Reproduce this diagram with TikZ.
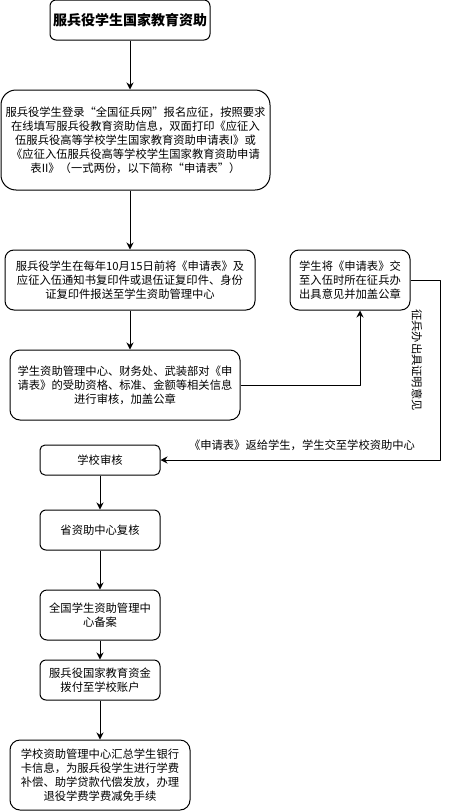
\documentclass[tikz,border=0pt]{standalone}
\usepackage{fontspec}
\setmainfont{Noto Sans CJK SC}
\usetikzlibrary{arrows.meta,calc}
\tikzset{
  flowbox/.style={draw, line width=1pt, align=center, inner sep=1pt, font=\fontsize{11.3}{14}\selectfont},
  flowline/.style={line width=1pt, -{Stealth[length=7pt,width=7pt]}}
}
\begin{document}
\begin{tikzpicture}[x=1pt, y=-1pt, line join=round]
\useasboundingbox (0,0) rectangle (449,811);
% main column
\node[flowbox, rounded corners=6pt, minimum width=160pt, minimum height=40pt, font=\fontsize{14}{16}\selectfont\bfseries] (title) at (130,20) {服兵役学生国家教育资助};
\node[flowbox, rounded corners=15pt, minimum width=269pt, minimum height=100pt] (apply) at (135.5,140) {服兵役学生登录“全国征兵网”报名应征，按照要求\\在线填写服兵役教育资助信息，双面打印《应征入\\伍服兵役高等学校学生国家教育资助申请表I》或\\《应征入伍服兵役高等学校学生国家教育资助申请\\表II》（一式两份，以下简称“申请表”）};
\node[flowbox, rounded corners=9pt, minimum width=250pt, minimum height=60pt] (submit) at (130,280) {服兵役学生在每年10月15日前将《申请表》及\\应征入伍通知书复印件或退伍证复印件、身份\\证复印件报送至学生资助管理中心};
\node[flowbox, rounded corners=10pt, minimum width=230pt, minimum height=70pt] (review) at (125,385) {学生资助管理中心、财务处、武装部对《申\\请表》的受助资格、标准、金额等相关信息\\进行审核，加盖公章};
\node[flowbox, rounded corners=9pt, minimum width=120pt, minimum height=60pt] (army) at (350,280) {学生将《申请表》交\\至入伍时所在征兵办\\出具意见并加盖公章};
\node[flowbox, rounded corners=5pt, minimum width=120pt, minimum height=30pt] (school) at (100,460) {学校审核};
\node[flowbox, rounded corners=6pt, minimum width=120pt, minimum height=40pt] (province) at (100,530) {省资助中心复核};
\node[flowbox, rounded corners=7pt, minimum width=120pt, minimum height=50pt] (nation) at (100,615) {全国学生资助管理中\\心备案};
\node[flowbox, rounded corners=6pt, minimum width=120pt, minimum height=40pt] (fund) at (100,680) {服兵役国家教育资金\\拨付至学校账户};
\node[flowbox, rounded corners=10pt, minimum width=180pt, minimum height=70pt] (final) at (100,775) {学校资助管理中心汇总学生银行\\卡信息，为服兵役学生进行学费\\补偿、助学贷款代偿发放，办理\\退役学费学费减免手续};
\coordinate (corner) at (440,460);
% connectors
\draw[flowline] (title.south) -- (title.south |- apply.north);
\draw[flowline] (apply.south -| title.south) -- (submit.north);
\draw[flowline] (submit.south) -- (submit.south |- review.north);
\draw[flowline] (review.east) -| ($(army.south)+(10,0)$);
\draw[flowline] (army.east) -| (corner) -- (school.east);
\draw[flowline] (school) -- (province);
\draw[flowline] (province) -- (nation);
\draw[flowline] (nation) -- (fund);
\draw[flowline] (fund) -- (final);
% labels
\node[rotate=-90, font=\fontsize{11.3}{14}\selectfont] (armylabel) at (417,360) {征兵办出具证明意见};
\node[font=\fontsize{11.3}{14}\selectfont] (backlabel) at (302,445) {《申请表》返给学生，学生交至学校资助中心};
\end{tikzpicture}
\end{document}
